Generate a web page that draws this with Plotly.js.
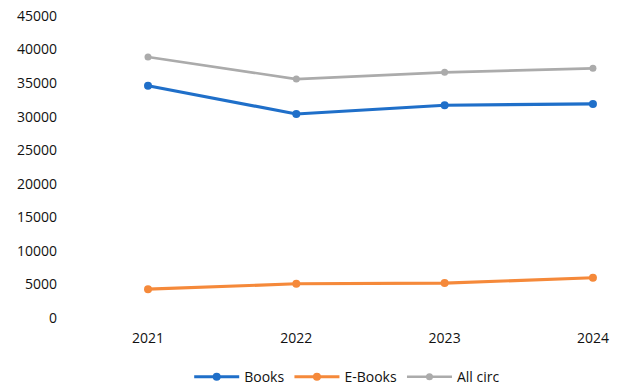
<!DOCTYPE html>
<html>
<head>
<meta charset="utf-8">
<script src="https://cdn.plot.ly/plotly-3.0.1.min.js"></script>
<style>html,body{margin:0;padding:0;background:#fff;}#chart{width:620px;height:388px;}</style>
</head>
<body>
<div id="chart"></div>
<script>
var years = ['2021', '2022', '2023', '2024'];
var books = [34600, 30400, 31700, 31900];
var ebooks = [4300, 5100, 5200, 6000];
var allCirc = [38900, 35600, 36600, 37200];
var yTicks = [0, 5000, 10000, 15000, 20000, 25000, 30000, 35000, 40000, 45000];

function series(name, vals, color, width, size) {
  return {
    x: years, y: vals, name: name, type: 'scatter', mode: 'lines+markers',
    line: {color: color, width: width},
    marker: {color: color, size: size, symbol: 'circle'}
  };
}

var data = [
  series('Books', books, '#1f6fc9', 3.2, 8),
  series('E-Books', ebooks, '#f5893a', 3.2, 8),
  series('All circ', allCirc, '#ababab', 2.6, 7)
];

var font = {family: '"Open Sans", "Liberation Sans", sans-serif', size: 14, color: '#111'};

var layout = {
  width: 620, height: 388,
  margin: {l: 70, r: 10, t: 16, b: 70},
  paper_bgcolor: '#fff', plot_bgcolor: '#fff',
  font: font,
  showlegend: true,
  legend: {orientation: 'h', x: 0.56, xanchor: 'center', xref: 'container',
           y: 0.028, yanchor: 'middle', yref: 'container', itemwidth: 45,
           font: {family: font.family, size: 14, color: '#111'}, tracegroupgap: 0},
  xaxis: {
    type: 'category', range: [-0.526, 3.115],
    showgrid: false, zeroline: false, showline: false, ticks: '',
    ticklabelstandoff: 10,
    tickfont: font
  },
  yaxis: {
    range: [0, 45000], tickvals: yTicks, ticktext: yTicks.map(String),
    showgrid: false, zeroline: false, showline: false, ticks: '',
    ticklabelstandoff: 12,
    tickfont: font
  }
};

Plotly.newPlot('chart', data, layout, {displayModeBar: false, staticPlot: true});
</script>
</body>
</html>
